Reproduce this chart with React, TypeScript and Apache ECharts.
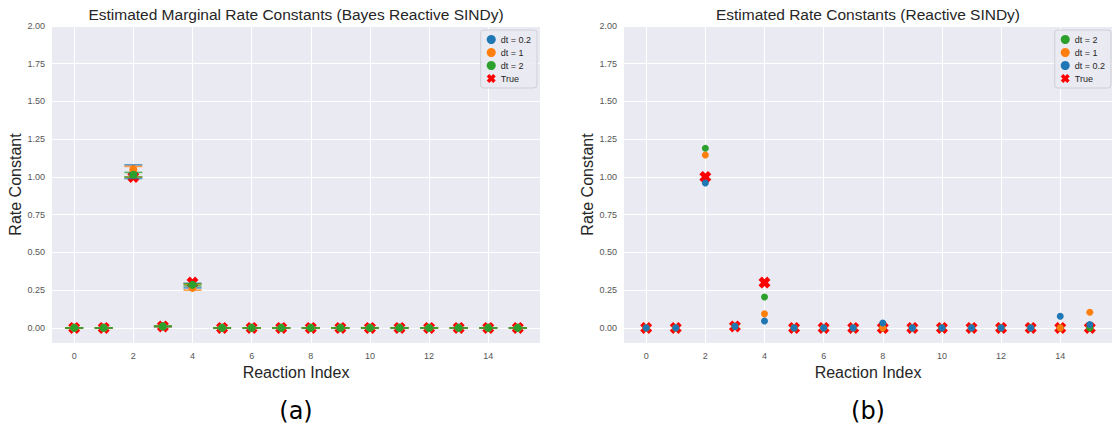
import React, { useEffect, useRef } from "react";
import * as echarts from "echarts";

// ---------- data ----------
const reactionIndex = [0, 1, 2, 3, 4, 5, 6, 7, 8, 9, 10, 11, 12, 13, 14, 15];
const xTicks = [0, 2, 4, 6, 8, 10, 12, 14];
const yTicks = [0, 0.25, 0.5, 0.75, 1.0, 1.25, 1.5, 1.75, 2.0];

const trueRates = [0, 0, 1.0, 0.01, 0.3, 0, 0, 0, 0, 0, 0, 0, 0, 0, 0, 0];

// (a) Bayes Reactive SINDy: marginal means with lower/upper bounds
const bayesMeanDt02 = [0, 0, 1.02, 0.01, 0.28, 0, 0, 0, 0, 0, 0, 0, 0, 0, 0, 0];
const bayesLowDt02 = [0, 0, 0.99, 0.008, 0.265, 0, 0, 0, 0, 0, 0, 0, 0, 0, 0, 0];
const bayesHighDt02 = [0, 0, 1.08, 0.012, 0.295, 0, 0, 0, 0, 0, 0, 0, 0, 0, 0, 0];

const bayesMeanDt1 = [0, 0, 1.05, 0.01, 0.265, 0, 0, 0, 0, 0, 0, 0, 0, 0, 0, 0];
const bayesLowDt1 = [0, 0, 1.0, 0.008, 0.25, 0, 0, 0, 0, 0, 0, 0, 0, 0, 0, 0];
const bayesHighDt1 = [0, 0, 1.07, 0.012, 0.29, 0, 0, 0, 0, 0, 0, 0, 0, 0, 0, 0];

const bayesMeanDt2 = [0, 0, 1.015, 0.01, 0.285, 0, 0, 0, 0, 0, 0, 0, 0, 0, 0, 0];
const bayesLowDt2 = [0, 0, 1.0, 0.009, 0.278, 0, 0, 0, 0, 0, 0, 0, 0, 0, 0, 0];
const bayesHighDt2 = [0, 0, 1.03, 0.011, 0.293, 0, 0, 0, 0, 0, 0, 0, 0, 0, 0, 0];

// (b) Reactive SINDy point estimates
const sindyDt2 = [0, 0, 1.19, 0.01, 0.205, 0, 0, 0, 0, 0, 0, 0, 0, 0, 0, 0];
const sindyDt1 = [0, 0, 1.146, 0.01, 0.093, 0, 0, 0, 0, 0, 0, 0, 0, 0, 0, 0.104];
const sindyDt02 = [0, 0, 0.96, 0.01, 0.046, 0, 0, 0, 0.033, 0, 0, 0, 0, 0, 0.077, 0.022];

const COLORS = { dt02: "#1f77b4", dt1: "#ff7f0e", dt2: "#2ca02c", truth: "#ff0000" };
const X_PATH =
  "path://M0,2.8 L2.8,0 L5,2.2 L7.2,0 L10,2.8 L7.8,5 L10,7.2 L7.2,10 L5,7.8 L2.8,10 L0,7.2 L2.2,5 Z";
const FONT = "'Liberation Sans', Arial, sans-serif";

const pts = (vals: number[]) => reactionIndex.map((i) => [i, vals[i]]);
const bars = (lo: number[], hi: number[]) => reactionIndex.map((i) => [i, lo[i], hi[i]]);

function errorBarSeries(name: string, lo: number[], hi: number[], color: string, idx: number) {
  return {
    type: "custom",
    name,
    xAxisIndex: idx,
    yAxisIndex: idx,
    data: bars(lo, hi),
    encode: { x: 0, y: [1, 2] },
    silent: true,
    renderItem: (_params: any, api: any) => {
      const x = api.value(0);
      const pLo = api.coord([x, api.value(1)]);
      const pHi = api.coord([x, api.value(2)]);
      const hw = 9;
      return {
        type: "group",
        children: [
          {
            type: "line",
            shape: { x1: pLo[0], y1: pLo[1], x2: pHi[0], y2: pHi[1] },
            style: { stroke: color, lineWidth: 3, opacity: 0.75 },
          },
          {
            type: "line",
            shape: { x1: pLo[0] - hw, y1: pLo[1], x2: pLo[0] + hw, y2: pLo[1] },
            style: { stroke: color, lineWidth: 1.6, opacity: 0.75 },
          },
          {
            type: "line",
            shape: { x1: pHi[0] - hw, y1: pHi[1], x2: pHi[0] + hw, y2: pHi[1] },
            style: { stroke: color, lineWidth: 1.6, opacity: 0.75 },
          },
        ],
      };
    },
    z: 3,
  };
}

function scatter(name: string, vals: number[], color: string, idx: number, size: number, z: number) {
  return {
    type: "scatter",
    name,
    xAxisIndex: idx,
    yAxisIndex: idx,
    data: pts(vals),
    symbol: "circle",
    symbolSize: size,
    itemStyle: { color, opacity: 1 },
    z,
  };
}

function truthSeries(idx: number) {
  return {
    type: "scatter",
    name: "True",
    xAxisIndex: idx,
    yAxisIndex: idx,
    data: pts(trueRates),
    symbol: X_PATH,
    symbolSize: 12,
    itemStyle: { color: COLORS.truth, opacity: 1 },
    z: 2,
  };
}

function xAxis(idx: number) {
  return {
    type: "value",
    gridIndex: idx,
    min: -0.75,
    max: 15.75,
    name: "Reaction Index",
    nameLocation: "middle",
    nameGap: 10,
    nameTextStyle: { fontSize: 16, color: "#262626", fontFamily: FONT },
    axisLine: { show: false },
    axisTick: { show: false, customValues: xTicks },
    axisLabel: { customValues: xTicks, fontSize: 9, color: "#555", margin: 8, fontFamily: FONT },
    splitLine: { show: true, lineStyle: { color: "#ffffff", width: 1 } },
  };
}

function yAxis(idx: number) {
  return {
    type: "value",
    gridIndex: idx,
    min: -0.1,
    max: 2.0,
    name: "Rate Constant",
    nameLocation: "middle",
    nameGap: 24,
    nameTextStyle: { fontSize: 16, color: "#262626", fontFamily: FONT },
    axisLine: { show: false },
    axisTick: { show: false, customValues: yTicks },
    axisLabel: {
      customValues: yTicks,
      fontSize: 9,
      color: "#555",
      margin: 7,
      fontFamily: FONT,
      formatter: (v: number) => v.toFixed(2),
    },
    splitLine: { show: true, lineStyle: { color: "#ffffff", width: 1 } },
  };
}

function legend(names: string[], right: number) {
  return {
    orient: "vertical",
    top: 30,
    right,
    data: names.map((n) => ({ name: n, icon: n === "True" ? X_PATH : "circle" })),
    itemWidth: 9,
    itemHeight: 9,
    itemGap: 4,
    padding: [5, 6, 5, 6],
    backgroundColor: "rgba(234,234,242,0.85)",
    borderColor: "#cfcfd6",
    borderWidth: 1,
    borderRadius: 3,
    textStyle: { fontSize: 9, color: "#262626", fontFamily: FONT },
    selectedMode: false,
  };
}

const titleStyle = (text: string, size: number, family: string, fill: string) => ({
  text,
  fill,
  font: `${size}px ${family}`,
  textAlign: "center",
  textVerticalAlign: "middle",
  align: "center",
  verticalAlign: "middle",
});

export default function App() {
  const ref = useRef<HTMLDivElement>(null);
  useEffect(() => {
    if (!ref.current) return;
    const chart = echarts.init(ref.current, undefined, { renderer: "svg" });
    const option: any = {
      animation: false,
      backgroundColor: "#ffffff",
      grid: [
        { left: 52, top: 26, width: 488, height: 317, show: true, backgroundColor: "#EAEAF2", borderWidth: 0 },
        { left: 624, top: 26, width: 488, height: 317, show: true, backgroundColor: "#EAEAF2", borderWidth: 0 },
      ],
      xAxis: [xAxis(0), xAxis(1)],
      yAxis: [yAxis(0), yAxis(1)],
      legend: [
        legend(["dt = 0.2", "dt = 1", "dt = 2", "True"], 1114 - 537),
        legend(["dt = 2", "dt = 1", "dt = 0.2", "True"], 3),
      ],
      graphic: [
        {
          type: "text",
          x: 296,
          y: 14,
          style: titleStyle("Estimated Marginal Rate Constants (Bayes Reactive SINDy)", 15.5, FONT, "#262626"),
        },
        {
          type: "text",
          x: 868,
          y: 14,
          style: titleStyle("Estimated Rate Constants (Reactive SINDy)", 15.5, FONT, "#262626"),
        },
        {
          type: "text",
          x: 296,
          y: 411,
          style: titleStyle("(a)", 24, "'DejaVu Sans', sans-serif", "#000000"),
        },
        {
          type: "text",
          x: 868,
          y: 411,
          style: titleStyle("(b)", 24, "'DejaVu Sans', sans-serif", "#000000"),
        },
      ],
      series: [
        // (a)
        truthSeries(0),
        errorBarSeries("eb02", bayesLowDt02, bayesHighDt02, COLORS.dt02, 0),
        scatter("dt = 0.2", bayesMeanDt02, COLORS.dt02, 0, 8, 4),
        errorBarSeries("eb1", bayesLowDt1, bayesHighDt1, COLORS.dt1, 0),
        scatter("dt = 1", bayesMeanDt1, COLORS.dt1, 0, 8, 5),
        errorBarSeries("eb2", bayesLowDt2, bayesHighDt2, COLORS.dt2, 0),
        scatter("dt = 2", bayesMeanDt2, COLORS.dt2, 0, 8, 6),
        // (b)
        truthSeries(1),
        scatter("dt = 2", sindyDt2, COLORS.dt2, 1, 7, 4),
        scatter("dt = 1", sindyDt1, COLORS.dt1, 1, 7, 5),
        scatter("dt = 0.2", sindyDt02, COLORS.dt02, 1, 7, 6),
      ],
    };
    chart.setOption(option);
    return () => chart.dispose();
  }, []);
  return (
    <div
      ref={ref}
      style={{ position: "absolute", left: 0, top: 0, width: 1114, height: 428 }}
    />
  );
}
